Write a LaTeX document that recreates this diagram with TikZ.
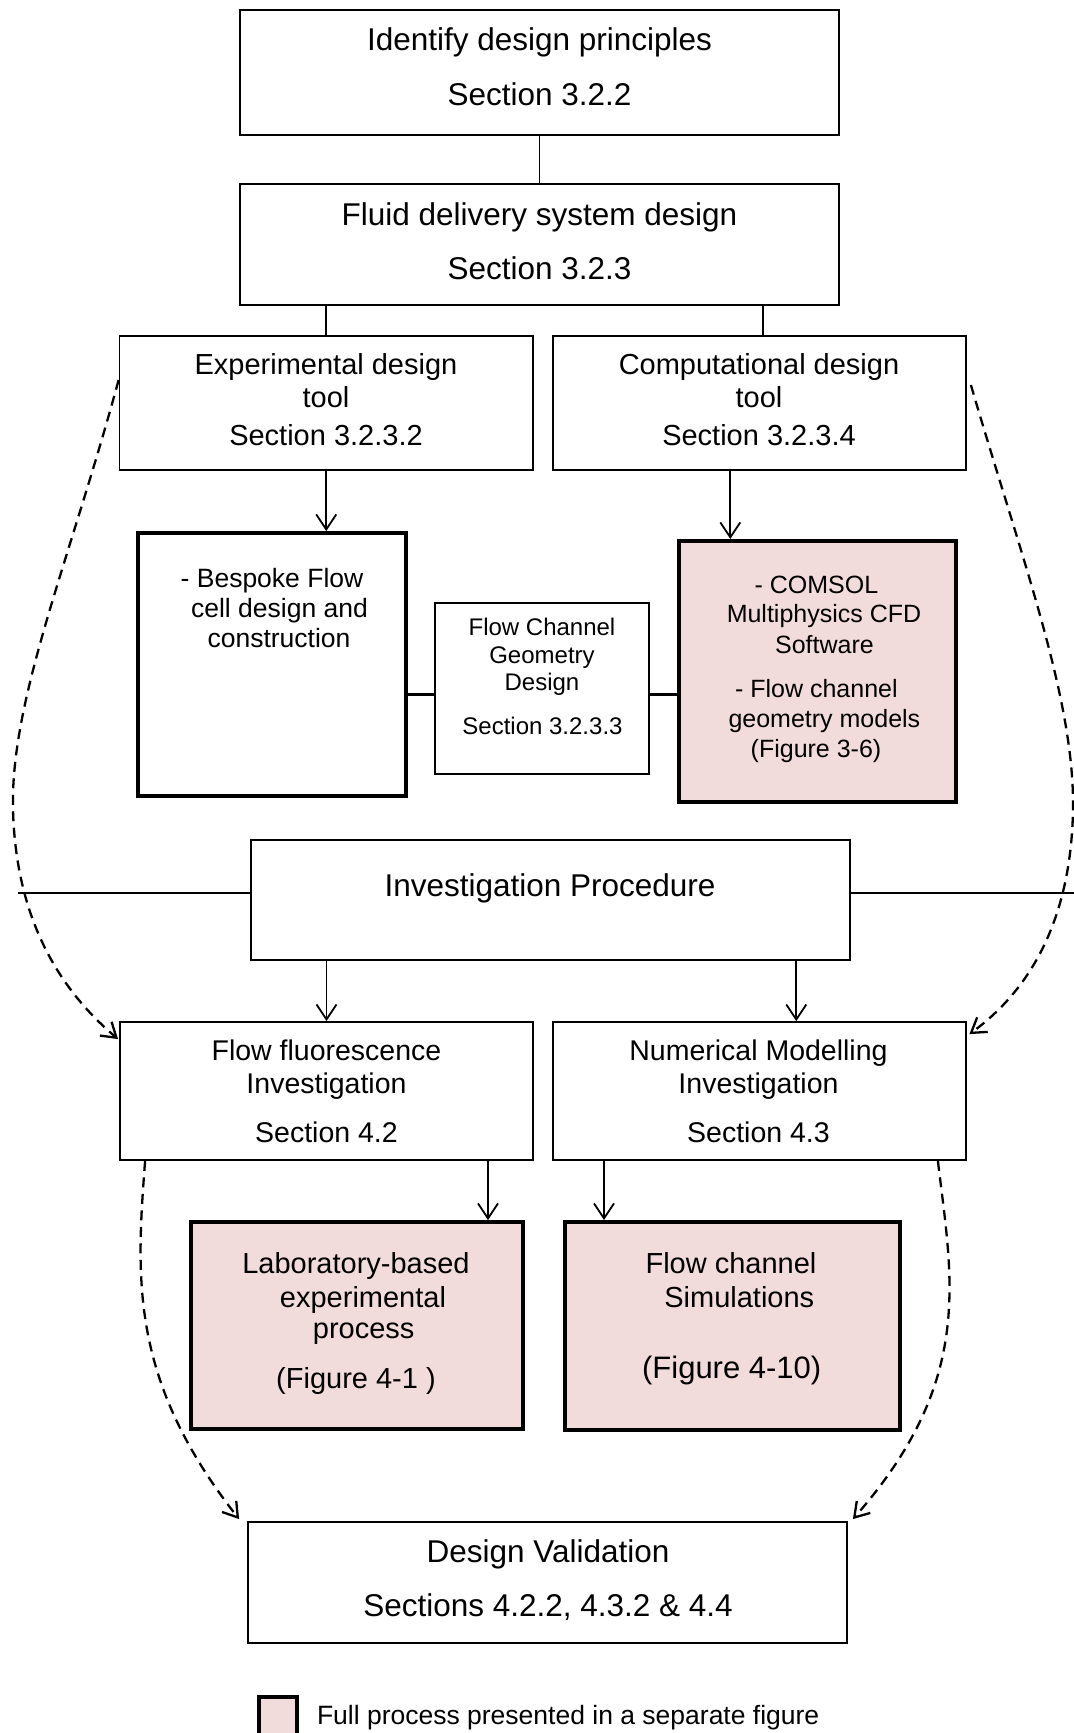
\documentclass[tikz,border=0pt]{standalone}
\usepackage{fontspec}
\setmainfont{Liberation Sans}
\usetikzlibrary{arrows.meta,fit,calc}
\definecolor{pinkfill}{RGB}{242,220,219}
\begin{document}
\begin{tikzpicture}[x=1pt,y=-1pt,
  box/.style={draw=black,line width=1.8pt,inner sep=0pt,rectangle},
  hbox/.style={draw=black,line width=4pt,inner sep=0pt,rectangle},
  pbox/.style={hbox,fill=pinkfill},
  txt/.style={anchor=base,inner sep=0pt,outer sep=0pt},
  fA/.style={txt,font=\fontsize{31.5}{36}\selectfont},
  fB/.style={txt,font=\fontsize{29}{33}\selectfont},
  fC/.style={txt,font=\fontsize{28.5}{33}\selectfont},
  fD/.style={txt,font=\fontsize{26.5}{30}\selectfont},
  fE/.style={txt,font=\fontsize{24}{28}\selectfont},
  fF/.style={txt,font=\fontsize{25}{29}\selectfont},
  fG/.style={txt,font=\fontsize{31}{35}\selectfont},
  conn/.style={line width=1.8pt},
  arr/.style={conn,-{Straight Barb[length=15pt,width=20pt]}},
  thickconn/.style={line width=3pt},
  sideconn/.style={line width=2.6pt},
  dsh/.style={line width=2.3pt,dash pattern=on 10pt off 6.5pt,-{Straight Barb[length=14pt,width=18pt]}},
]
\fill[white] (0,0) rectangle (1074,1733);
\useasboundingbox (0,0) rectangle (1074,1733);

% boxes
\node[box,fit={(240,10) (839,135)}] (b1) {};
\node[box,fit={(240,184) (839,305)}] (b2) {};
\node[box,fit={(119.5,336) (533,470)}] (b3) {};
\node[box,fit={(552.6,336) (966,470)}] (b4) {};
\node[hbox,fit={(138,533) (406,796)}] (bes) {};
\node[box,fit={(435,603) (649,774)}] (fcg) {};
\node[pbox,fit={(679,541) (956,802)}] (com) {};
\node[box,fit={(251,840) (850,960)}] (inv) {};
\node[box,fit={(120,1022) (533,1160)}] (fl) {};
\node[box,fit={(552.6,1022) (966,1160)}] (num) {};
\node[pbox,fit={(191,1222) (523,1429)}] (lab) {};
\node[pbox,fit={(565,1222) (900,1430)}] (sim) {};
\node[box,fit={(248,1522) (847,1643)}] (dv) {};
\node[pbox,fit={(259,1697) (297,1745)}] (leg) {};

% texts
\node[fA] (t1a) at (539.5,50) {Identify design principles};
\node[fA] (t1b) at (539.5,105) {Section 3.2.2};
\node[fA] (t2a) at (539.5,225) {Fluid delivery system design};
\node[fA] (t2b) at (539.5,279) {Section 3.2.3};
\node[fB] (t3a) at (326,374) {Experimental design};
\node[fB] (t3b) at (326,407) {tool};
\node[fB] (t3c) at (326,445) {Section 3.2.3.2};
\node[fB] (t4a) at (759,374) {Computational design};
\node[fB] (t4b) at (759,407) {tool};
\node[fB] (t4c) at (759,445) {Section 3.2.3.4};
\node[fD] (t5a) at (272,587) {- Bespoke Flow};
\node[fD] (t5b) at (279.5,617) {cell design and};
\node[fD] (t5c) at (279,647) {construction};
\node[fE] (t6a) at (542,635) {Flow Channel};
\node[fE] (t6b) at (542,663) {Geometry};
\node[fE] (t6c) at (542,690) {Design};
\node[fE] (t6d) at (542.5,734) {Section 3.2.3.3};
\node[fF] (t7a) at (816.4,593) {- COMSOL};
\node[fF] (t7b) at (824,622) {Multiphysics CFD};
\node[fF] (t7c) at (824.4,653) {Software};
\node[fF] (t7d) at (816.4,697) {- Flow channel};
\node[fF] (t7e) at (824.4,727) {geometry models};
\node[fF] (t7f) at (816,757) {(Figure 3-6)};
\node[fA] (t8a) at (550,896) {Investigation Procedure};
\node[fC] (t9a) at (326.5,1060) {Flow fluorescence};
\node[fC] (t9b) at (326.5,1093) {Investigation};
\node[fC] (t9c) at (326.5,1142) {Section 4.2};
\node[fC] (t10a) at (758.5,1060) {Numerical Modelling};
\node[fC] (t10b) at (758.5,1093) {Investigation};
\node[fC] (t10c) at (758.5,1142) {Section 4.3};
\node[fB] (t11a) at (356,1273) {Laboratory-based};
\node[fB] (t11b) at (363,1307) {experimental};
\node[fB] (t11c) at (363.7,1338) {process};
\node[fB] (t11d) at (356,1388) {(Figure 4-1 )};
\node[fB] (t12a) at (731,1273) {Flow channel};
\node[fB] (t12b) at (739.3,1307) {Simulations};
\node[fG] (t12c) at (731.7,1378) {(Figure 4-10)};
\node[fA] (t13a) at (548,1562) {Design Validation};
\node[fA] (t13b) at (548,1616) {Sections 4.2.2, 4.3.2 \& 4.4};
\node[fD,anchor=base west] (legt) at (317,1724) {Full process presented in a separate figure};

% solid connectors
\draw[conn] (b1.south) -- (b2.north);
\draw[conn] (b3.north |- b2.south) -- (b3.north);
\draw[conn] ($(b4.north |- b2.south)+(4,0)$) -- ($(b4.north)+(4,0)$);
\draw[arr] (b3.south) -- (b3.south |- bes.north);
\draw[arr] ($(b4.south)+(-29,0)$) -- ($(b4.south |- com.north)+(-29,0)$);
\draw[thickconn] ($(bes.east |- fcg.west)+(0,5.5)$) -- ($(fcg.west)+(0,5.5)$);
\draw[thickconn] ($(fcg.east)+(0,5.5)$) -- ($(com.west |- fcg.east)+(0,5.5)$);
\coordinate (lft) at (18,893);
\coordinate (rgt) at (1074,893);
\draw[sideconn] ($(inv.west)+(0,-7)$) -- (lft);
\draw[sideconn] ($(inv.east)+(0,-7)$) -- (rgt);
\draw[arr] (fl.north |- inv.south) -- (fl.north);
\draw[arr] ($(num.north |- inv.south)+(37,0)$) -- ($(num.north)+(37,0)$);
\draw[arr] ($(lab.north |- fl.south)+(131,0)$) -- ($(lab.north)+(131,0)$);
\draw[arr] ($(sim.north |- num.south)+(-128.5,0)$) -- ($(sim.north)+(-128.5,0)$);

% dashed connectors
\draw[dsh] ($(b3.west)+(0,-23)$) .. controls (70,560) and (10,700) .. (13,810)
  .. controls (16,920) and (60,990) .. ($(fl.north west)+(-1,18)$);
\draw[dsh] ($(b4.east)+(4,-18)$) .. controls (1022,560) and (1075,700) .. (1073,810)
  .. controls (1071,920) and (1030,990) .. ($(num.north east)+(2.5,13)$);
\draw[dsh] ($(fl.south west)+(26,0)$) .. controls (136,1280) and (130,1380) .. ($(dv.north west)+(-8,-2)$);
\draw[dsh] ($(num.south east)+(-29,0)$) .. controls (952,1280) and (975,1380) .. ($(dv.north east)+(5,-2)$);
\end{tikzpicture}
\end{document}
